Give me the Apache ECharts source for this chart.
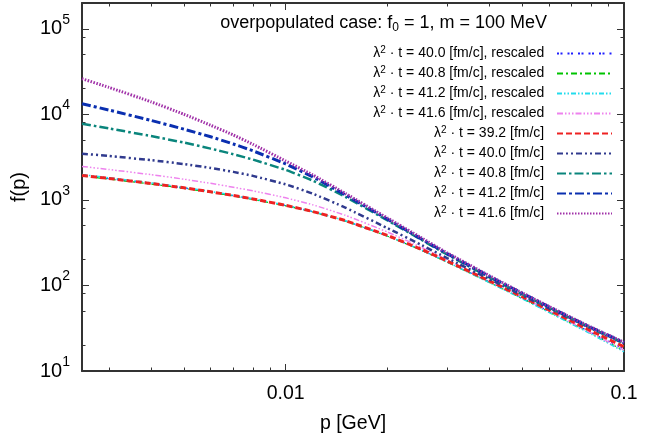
<!DOCTYPE html>
<html><head><meta charset="utf-8">
<script src="https://cdn.jsdelivr.net/npm/echarts@6/dist/echarts.min.js"></script>
<style>html,body{margin:0;padding:0;background:#fff}#c{width:667px;height:441px}</style>
</head><body><div id="c"></div>
<script>
// momentum grid [GeV]
const p = [0.0025,0.003,0.004,0.005,0.006,0.007,0.008,0.01,0.012,0.015,0.02,0.025,0.03,0.04,0.05,0.06,0.07,0.08,0.1];
// rescaled curves
const f400r = [1920,1773,1548,1376,1236,1119,1021,858,728,568,379,263,189,110,71.6,49.9,36.7,28.1,18.0];
const f408r = [1895,1750,1530,1362,1225,1110,1013,852,724,565,376,261,187,108.5,70.5,49,35.9,27.4,17.3];
const f412r = [1975,1815,1580,1400,1254,1133,1031,864,733,571,379,262,188,108,70,48.5,35.4,27,16.8];
const f416r = [2460,2267,1973,1745,1560,1406,1276,1056,878,661,421,283,199,113,73,50.4,36.7,27.8,17.5];
// unscaled curves
const f392 = [1930,1782,1556,1383,1242,1125,1026,862,732,572,383,267,193,113,73.8,51.7,38.2,29.4,19.2];
const f400 = [3464,3261,2910,2621,2360,2126,1908,1517,1186,812,467,302,209,118.7,76.8,54.0,40.3,31.5,21.1];
const f408 = [7759,6843,5570,4675,3974,3420,2955,2241,1684,1087,575,347,230,124.3,79,55.1,40.9,31.8,21.1];
const f412 = [13300,11227,8480,6708,5465,4500,3745,2629,1867,1144,594,355,235.5,127.7,81.2,56.4,41.6,32.2,21.5];
const f416 = [26055,20671,14004,10027,7452,5738,4463,2845,1962,1190,613,366,241,130,81.9,56.9,42.0,32.5,21.7];

const seriesNames = [
  'λ² · t = 40.0 [fm/c], rescaled',
  'λ² · t = 40.8 [fm/c], rescaled',
  'λ² · t = 41.2 [fm/c], rescaled',
  'λ² · t = 41.6 [fm/c], rescaled',
  'λ² · t = 39.2 [fm/c]',
  'λ² · t = 40.0 [fm/c]',
  'λ² · t = 40.8 [fm/c]',
  'λ² · t = 41.2 [fm/c]',
  'λ² · t = 41.6 [fm/c]'
];
const seriesData = [f400r, f408r, f412r, f416r, f392, f400, f408, f412, f416];

const xMajorTicks = [0.01, 0.1];
const xMinorTicks = [0.003,0.004,0.005,0.006,0.007,0.008,0.009,0.02,0.03,0.04,0.05,0.06,0.07,0.08,0.09];
const yMajorTicks = [10, 100, 1000, 10000, 100000];
const yMinorTicks = [20,50,80,200,500,800,2000,5000,8000,20000,50000,80000];

const FONT = '"Liberation Sans", Arial, Helvetica, sans-serif';
const styles = [
  {color:'#1f1fff', width:1.2, type:[2,1.5,2,5]},
  {color:'#00c400', width:1.2, type:[6,3,2,3]},
  {color:'#22dced', width:1.5, type:[5,2,1.5,2,1.5,2]},
  {color:'#ee82ee', width:1.5, type:[6,2,1.5,2,1.5,2,1.5,2]},
  {color:'#ee2222', width:3, type:[6,3]},
  {color:'#303a8e', width:2.5, type:[6,3,2,3,2,3]},
  {color:'#0a857c', width:2.5, type:[9,3,2.5,3]},
  {color:'#0a2fb0', width:3, type:[9,3,3,3]},
  {color:'#a030a8', width:3, type:[1.5,1.5]}
];

const isPow = v => Math.abs(Math.log10(v) - Math.round(Math.log10(v))) < 1e-6;
const X_MIN = 0.0025, X_MAX = 0.1, Y_MIN = 10, Y_MAX = 200000;
const axisLineStyle = {color:'#333', width:2};
const tickStyle = {color:'#333', width:1};

function xAx(pos, major, withLabel) {
  return {
    type:'log', logBase:10, min:X_MIN, max:X_MAX, position:pos,
    axisLine:{show: major, onZero:false, lineStyle:axisLineStyle},
    axisTick:{show:true, inside:true, length: major?7:3.5, lineStyle:tickStyle,
              customValues: major ? xMajorTicks : xMinorTicks},
    axisLabel: withLabel ? {show:true, fontSize:19.5, color:'#000', fontFamily:FONT, margin:12.5,
      formatter: v => isPow(v) ? String(Math.pow(10, Math.round(Math.log10(v))).toFixed(-Math.round(Math.log10(v)))) : ''} : {show:false},
    splitLine:{show:false}, minorTick:{show:false},
    name: withLabel ? 'p [GeV]' : '', nameLocation:'middle', nameGap:43,
    nameTextStyle:{fontSize:19.5, color:'#000', fontFamily:FONT}
  };
}
function yAx(pos, major, withLabel) {
  return {
    type:'log', logBase:10, min:Y_MIN, max:Y_MAX, position:pos,
    axisLine:{show: major, onZero:false, lineStyle:axisLineStyle},
    axisTick:{show:true, inside:true, length: major?7:3.5, lineStyle:tickStyle,
              customValues: major ? yMajorTicks : yMinorTicks},
    axisLabel: withLabel ? {show:true, fontSize:20, color:'#000', fontFamily:FONT, margin:12,
      formatter: v => isPow(v) ? '10{sup|' + Math.round(Math.log10(v)) + '}' : '',
      rich:{sup:{fontSize:14, color:'#000', fontFamily:FONT, padding:[0,0,18,0]}}} : {show:false},
    splitLine:{show:false}, minorTick:{show:false},
    name: withLabel ? 'f(p)' : '', nameLocation:'middle', nameGap:47,
    nameTextStyle:{fontSize:20, color:'#000', fontFamily:FONT}
  };
}

const chart = echarts.init(document.getElementById('c'), null, {renderer:'canvas'});
chart.setOption({
  backgroundColor:'#fff',
  animation:false,
  title:{
    text:'overpopulated case: f{sub|0} = 1, m = 100 MeV',
    right:115, top:8,
    textStyle:{fontSize:18, fontWeight:'normal', color:'#000', fontFamily:FONT,
      rich:{sub:{fontSize:12, color:'#000', fontFamily:FONT, padding:[9,0,0,0]}}}
  },
  legend:{
    orient:'vertical', right:49, top:40, align:'right',
    itemWidth:55, itemHeight:12, itemGap:4.5,
    selectedMode:false,
    data: seriesNames,
    itemStyle:{opacity:0},
    formatter: n => n.replace('²', '{sup|2}') + '  ',
    textStyle:{fontSize:14, color:'#000', fontFamily:FONT,
      rich:{sup:{fontSize:10, color:'#000', fontFamily:FONT, padding:[0,0,7,0]}}}
  },
  grid:{left:82, right:43, top:3, bottom:70, containLabel:false, outerBoundsMode:'none'},
  xAxis:[xAx('bottom', true, true), xAx('bottom', false, false), xAx('top', true, false), xAx('top', false, false)],
  yAxis:[yAx('left', true, true), yAx('left', false, false), yAx('right', true, false), yAx('right', false, false)],
  series: seriesNames.map((n, i) => ({
    name:n, type:'line', xAxisIndex:0, yAxisIndex:0,
    data: p.map((x, j) => [x, seriesData[i][j]]),
    symbol:'none', showSymbol:false, smooth:0.15,
    lineStyle:{color:styles[i].color, width:styles[i].width, type:styles[i].type},
    itemStyle:{color:styles[i].color}
  }))
});
</script></body></html>
